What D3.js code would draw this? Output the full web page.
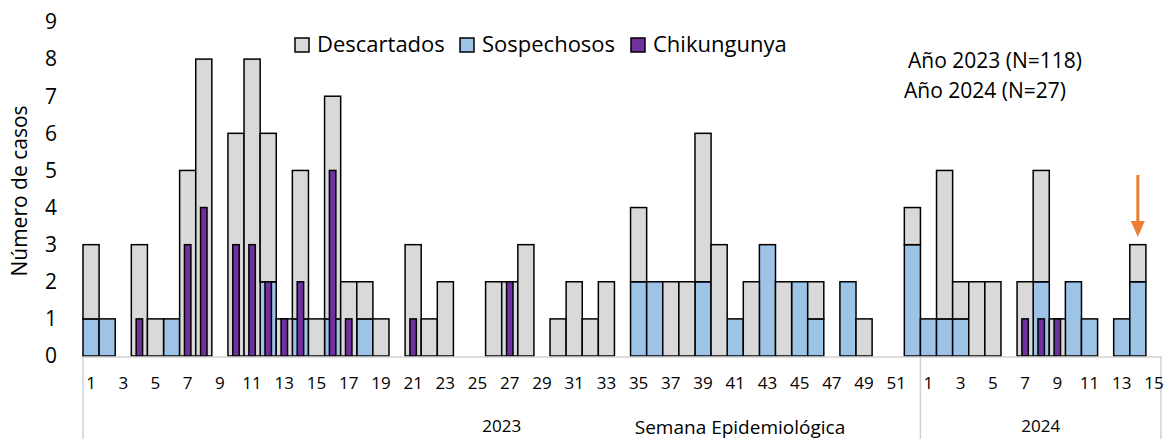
<!DOCTYPE html>
<meta charset="utf-8">
<style>
body { margin: 0; background: #fff; }
svg text { font-family: "Open Sans", Lato, sans-serif; fill: #000; }
.bar { stroke: #000; stroke-width: 1.5; }
</style>
<body>
<script src="https://d3js.org/d3.v7.min.js"></script>
<script>

// epidemiological weeks
var weeks2023 = d3.range(1, 53);
var weeks2024 = d3.range(1, 16);

// cases per week, 2023
var descartados2023 = [2,0,0,3,1,0,5,8,0,6,8,4,1,4,1,6,2,1,1,0,3,1,2,0,0,2,2,3,0,1,2,1,2,0,2,0,2,2,4,3,0,2,0,2,0,1,0,0,1,0,0,1];
var sospechosos2023 = [1,1,0,0,0,1,0,0,0,0,0,2,0,1,0,1,0,1,0,0,0,0,0,0,0,0,0,0,0,0,0,0,0,0,2,2,0,0,2,0,1,0,3,0,2,1,0,2,0,0,0,3];
var chikungunya2023 = [0,0,0,1,0,0,3,4,0,3,3,2,1,2,0,5,1,0,0,0,1,0,0,0,0,0,2,0,0,0,0,0,0,0,0,0,0,0,0,0,0,0,0,0,0,0,0,0,0,0,0,0];

// cases per week, 2024
var descartados2024 = [0,4,1,2,2,0,2,3,1,0,0,0,0,1,0];
var sospechosos2024 = [1,1,1,0,0,0,0,2,0,2,1,0,1,2,0];
var chikungunya2024 = [0,0,0,0,0,0,1,1,1,0,0,0,0,0,0];

var yTicks = [0,1,2,3,4,5,6,7,8,9];
var legendLabels = ["Descartados", "Sospechosos", "Chikungunya"];
var colors = ["#d9d9d9", "#9dc3e6", "#7030a0"];

// build table
var data = [];
weeks2023.forEach(function(w, i) {
  data.push({key: "2023-" + w, year: "2023", week: w,
    desc: descartados2023[i], sosp: sospechosos2023[i], chik: chikungunya2023[i]});
});
weeks2024.forEach(function(w, i) {
  data.push({key: "2024-" + w, year: "2024", week: w,
    desc: descartados2024[i], sosp: sospechosos2024[i], chik: chikungunya2024[i]});
});

var width = 1165, height = 439;
var svg = d3.select("body").append("svg")
    .attr("width", width)
    .attr("height", height);

var x = d3.scaleBand()
    .domain(data.map(function(d) { return d.key; }))
    .range([83, 1162])
    .padding(0);

var y = d3.scaleLinear()
    .domain([0, 9])
    .range([356, 22]);

// stacked bars: sospechosos at the bottom, descartados on top
var stack = d3.stack().keys(["sosp", "desc"]);
var series = stack(data);

svg.append("g").selectAll("g")
    .data(series)
  .enter().append("g")
    .attr("fill", function(s) { return s.key == "sosp" ? colors[1] : colors[0]; })
  .selectAll("rect")
    .data(function(s) { return s.filter(function(d) { return d[1] > d[0]; }); })
  .enter().append("rect")
    .attr("class", "bar")
    .attr("x", function(d) { return x(d.data.key); })
    .attr("width", x.bandwidth())
    .attr("y", function(d) { return y(d[1]); })
    .attr("height", function(d) { return y(d[0]) - y(d[1]); });

// chikungunya as narrow overlay bars
var narrow = x.bandwidth() * 0.4;
svg.append("g").selectAll("rect")
    .data(data.filter(function(d) { return d.chik > 0; }))
  .enter().append("rect")
    .attr("class", "bar")
    .attr("fill", colors[2])
    .attr("x", function(d) { return x(d.key) + (x.bandwidth() - narrow) / 2; })
    .attr("width", narrow)
    .attr("y", function(d) { return y(d.chik); })
    .attr("height", function(d) { return y(0) - y(d.chik); });

// x axis line and group separators
var axisColor = "#d0d0d0";
svg.append("line")
    .attr("x1", x.range()[0]).attr("x2", x.range()[1])
    .attr("y1", y(0) + 1).attr("y2", y(0) + 1)
    .attr("stroke", axisColor).attr("stroke-width", 1.5);

var sep = [x.range()[0], x("2024-1"), x.range()[1] - 1];
svg.append("g").selectAll("line")
    .data(sep)
  .enter().append("line")
    .attr("x1", function(d) { return d; }).attr("x2", function(d) { return d; })
    .attr("y1", y(0) + 1).attr("y2", height)
    .attr("stroke", axisColor).attr("stroke-width", 1.5);

// week labels (odd weeks)
svg.append("g").selectAll("text")
    .data(data.filter(function(d) { return d.week % 2 == 1; }))
  .enter().append("text")
    .attr("x", function(d) { return x(d.key) + x.bandwidth() / 2; })
    .attr("y", 389)
    .attr("text-anchor", "middle")
    .style("font-size", "17px")
    .text(function(d) { return d.week; });

// year labels
svg.append("text")
    .attr("x", (sep[0] + sep[1]) / 2).attr("y", 432)
    .attr("text-anchor", "middle").style("font-size", "17px")
    .text("2023");
svg.append("text")
    .attr("x", (sep[1] + sep[2]) / 2).attr("y", 432)
    .attr("text-anchor", "middle").style("font-size", "17px")
    .text("2024");
svg.append("text")
    .attr("x", 740).attr("y", 434)
    .attr("text-anchor", "middle").style("font-size", "19px")
    .text("Semana Epidemiológica");

// y axis labels
svg.append("g").selectAll("text")
    .data(yTicks)
  .enter().append("text")
    .attr("x", 57)
    .attr("y", function(d) { return y(d); })
    .attr("dy", "0.35em")
    .attr("text-anchor", "end")
    .style("font-size", "21px")
    .text(function(d) { return d; });

svg.append("text")
    .attr("transform", "translate(27,191) rotate(-90)")
    .attr("text-anchor", "middle")
    .style("font-size", "21px")
    .text("Número de casos");

// legend
var legendX = [295, 460, 631];
var legend = svg.append("g").selectAll("g")
    .data(legendLabels)
  .enter().append("g")
    .attr("transform", function(d, i) { return "translate(" + legendX[i] + ",38)"; });
legend.append("rect")
    .attr("width", 14).attr("height", 14)
    .attr("fill", function(d, i) { return colors[i]; })
    .attr("stroke", "#000").attr("stroke-width", 1.5);
legend.append("text")
    .attr("x", 22).attr("y", 14)
    .style("font-size", "22px")
    .text(function(d) { return d; });

// totals note
svg.append("text")
    .attr("x", 908).attr("y", 68)
    .style("font-size", "21px")
    .text("Año 2023 (N=" + d3.sum(descartados2023.concat(sospechosos2023)) + ")");
svg.append("text")
    .attr("x", 904).attr("y", 98)
    .style("font-size", "21px")
    .text("Año 2024 (N=" + d3.sum(descartados2024.concat(sospechosos2024)) + ")");

// arrow marking the current week
var ax = x("2024-14") + x.bandwidth() / 2;
svg.append("line")
    .attr("x1", ax).attr("x2", ax)
    .attr("y1", 175).attr("y2", 222)
    .attr("stroke", "#ed7d31").attr("stroke-width", 3);
svg.append("path")
    .attr("d", "M" + (ax - 7) + ",221L" + (ax + 7) + ",221L" + ax + ",237Z")
    .attr("fill", "#ed7d31");

</script>
</body>
